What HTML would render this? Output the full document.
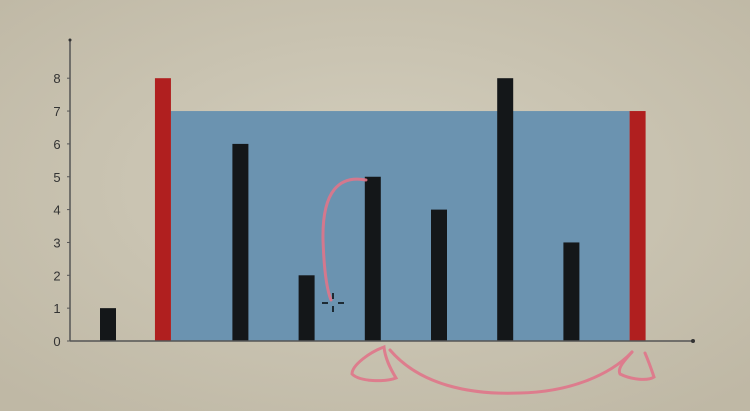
<!DOCTYPE html>
<html><head><meta charset="utf-8"><style>
html,body{margin:0;padding:0;width:750px;height:411px;overflow:hidden;background:#cbc5b3}
svg{display:block}
</style></head><body>
<svg id="chart" width="750" height="411">
<defs><radialGradient id="bg" cx="50%" cy="45%" r="70%"><stop offset="0" stop-color="#d3cebd"/><stop offset="1" stop-color="#bfb8a5"/></radialGradient></defs>
<rect width="750" height="411" fill="url(#bg)"/>
<g id="water"></g><g id="bars"></g><g id="axes"></g>
<g fill="none" stroke="#e0768a" stroke-width="3" stroke-linecap="round" opacity="0.9">
<path d="M366,180 C340,175 322,190 323,240 C324,270 327,290 331,300"/>
<path d="M384,347 C370,352 352,365 352,374 C360,382 385,382 396,378 C390,368 385,358 384,347 Z"/>
<path d="M390,350 C420,385 470,395 520,393 C570,392 610,375 632,352"/>
<path d="M632,352 C625,360 617,368 620,374 C632,380 648,381 654,377 C651,368 648,360 645,353"/>
</g>
<g stroke="#1d2a33" stroke-width="2">
<line x1="333" y1="293" x2="333" y2="299"/><line x1="333" y1="306" x2="333" y2="312"/>
<line x1="322" y1="303" x2="328" y2="303"/><line x1="338" y1="303" x2="344" y2="303"/>
</g>
</svg>
<script>
const categories = ["0","1","2","3","4","5","6","7","8"];
const slots = [0, 0.83, 2, 3, 4, 5, 6, 7, 8];
const heights = [1, 8, 6, 2, 5, 4, 8, 3, 7];
const highlighted = [1, 8];
const waterLevel = 7;
const yTicks = [0,1,2,3,4,5,6,7,8];

const NS = "http://www.w3.org/2000/svg";
const x0 = 100, step = 66.2, barW = 16;
const yBase = 341, unit = 32.85;
function xScale(s){ return x0 + s*step; }
function yScale(v){ return yBase - v*unit; }
function mk(tag, attrs, parent){ const e=document.createElementNS(NS,tag); for(const k in attrs) e.setAttribute(k,attrs[k]); parent.appendChild(e); return e; }

const water = document.getElementById('water');
const wl = xScale(slots[highlighted[0]]) + barW, wr = xScale(slots[highlighted[1]]);
const w = mk('rect',{x:wl,y:yScale(waterLevel),width:wr-wl,height:yBase-yScale(waterLevel),fill:'#6b93b0'},water);



const bars = document.getElementById('bars');
heights.forEach((h,i)=>{
  const red = highlighted.includes(i);
  const r = mk('rect',{x:xScale(slots[i]),y:yScale(h),width:barW,height:yBase-yScale(h),fill:red?'#b01f1f':'#141719'},bars);
  
  
});

const axes = document.getElementById('axes');
const ya = mk('line',{x1:70,y1:40,x2:70,y2:341,stroke:'#555',"stroke-width":1.5},axes);


const xa = mk('line',{x1:70,y1:341,x2:693,y2:341,stroke:'#555',"stroke-width":1.5},axes);


mk('circle',{cx:693,cy:341,r:2,fill:'#333'},axes);
mk('circle',{cx:70,cy:40,r:1.5,fill:'#333'},axes);
yTicks.forEach(t=>{
  const tk = mk('line',{x1:67,y1:yScale(t),x2:70,y2:yScale(t),stroke:'#555'},axes);
  
  
  const tx = mk('text',{x:57,y:yScale(t)+5,"text-anchor":"middle","font-family":"Liberation Sans, sans-serif","font-size":13,fill:'#333'},axes);
  tx.textContent = t;
  
  
});
</script>
</body></html>
